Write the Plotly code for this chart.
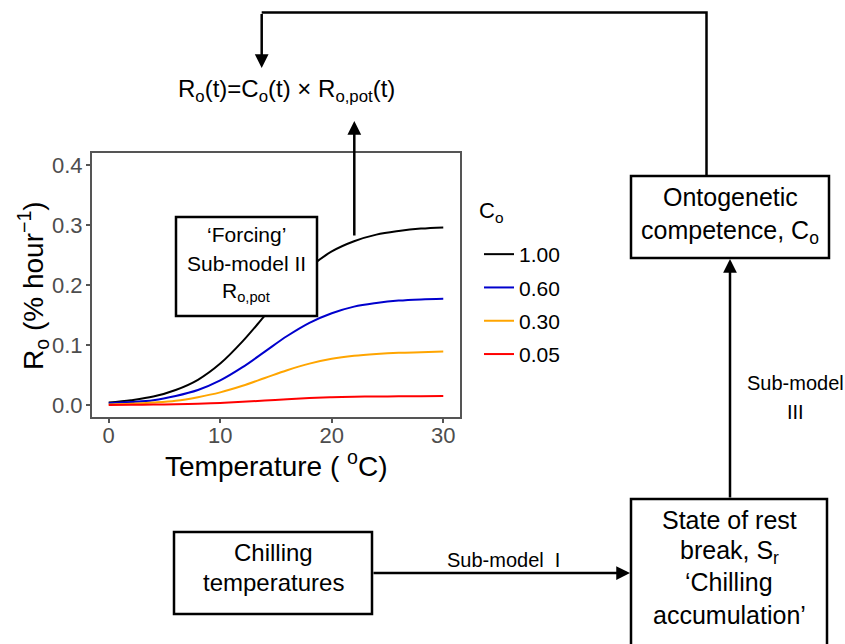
import plotly.graph_objects as go

W, H = 845, 644

# ---- data ----
temperature = [0, 2, 4, 6, 8, 10, 12, 14, 16, 18, 20, 22, 24, 26, 28, 30]
co_labels = ["1.00", "0.60", "0.30", "0.05"]
ro_100 = [0.004, 0.008, 0.014, 0.025, 0.042, 0.069, 0.106, 0.149, 0.192, 0.229, 0.256, 0.273, 0.284, 0.290, 0.294, 0.296]
ro_060 = [0.003, 0.005, 0.008, 0.015, 0.025, 0.041, 0.063, 0.089, 0.115, 0.137, 0.153, 0.164, 0.170, 0.174, 0.176, 0.177]
ro_030 = [0.001, 0.002, 0.004, 0.007, 0.013, 0.021, 0.032, 0.045, 0.058, 0.069, 0.077, 0.082, 0.085, 0.087, 0.088, 0.089]
ro_005 = [0.0002, 0.0004, 0.0007, 0.0012, 0.0021, 0.0035, 0.0053, 0.0075, 0.0096, 0.0115, 0.0128, 0.0137, 0.0142, 0.0145, 0.0147, 0.0148]
series = [ro_100, ro_060, ro_030, ro_005]
colors = ["#000000", "#0000CD", "#FFA500", "#FF0000"]
x_ticks = [0, 10, 20, 30]
y_ticks = [0.0, 0.1, 0.2, 0.3, 0.4]

FONT = "Liberation Sans, Arial, sans-serif"


def px(x):
    return x / W


def py(y):
    return 1 - y / H


fig = go.Figure()
for lab, vals, col in zip(co_labels, series, colors):
    fig.add_trace(go.Scatter(
        x=temperature, y=vals, mode="lines", name=lab, legendgroup=lab,
        line=dict(color=col, width=2, shape="spline", smoothing=1.0),
        hoverinfo="skip"))

axis_common = dict(showline=True, mirror=True, linecolor="#555555", linewidth=2,
                   showgrid=False, zeroline=False, ticks="outside", ticklen=4,
                   tickwidth=1.5, tickcolor="#555555",
                   tickfont=dict(size=22, color="#4d4d4d", family=FONT))

fig.update_layout(
    width=W, height=H, autosize=False,
    margin=dict(l=0, r=0, t=0, b=0),
    paper_bgcolor="white", plot_bgcolor="white",
    font=dict(family=FONT, color="black"),
    xaxis=dict(domain=[px(92), px(460)], range=[-1.5, 31.5], tickvals=x_ticks,
               ticklabelstandoff=-6, **axis_common),
    yaxis=dict(domain=[py(417), py(153)], range=[-0.02, 0.42], tickvals=y_ticks,
               tickformat=".1f", ticklabelstandoff=-1, **axis_common),
    legend=dict(x=px(479), y=py(234), xanchor="left", yanchor="top",
                font=dict(size=21, family=FONT, color="black"),
                traceorder="grouped", tracegroupgap=3, itemwidth=30,
                bgcolor="rgba(0,0,0,0)"),
    showlegend=True,
)

shapes = []
annotations = []
LW = 2.5


def rect(x0, y0, x1, y1, fill="rgba(0,0,0,0)"):
    shapes.append(dict(type="rect", xref="paper", yref="paper",
                       x0=px(x0), x1=px(x1), y0=py(y1), y1=py(y0),
                       line=dict(color="black", width=LW), fillcolor=fill, layer="above"))


def text(x, y, t, size, anchor="center"):
    annotations.append(dict(x=px(x), y=py(y), xref="paper", yref="paper", text=t,
                            showarrow=False, xanchor=anchor, yanchor="middle",
                            font=dict(size=size, color="black", family=FONT)))


def arrow(x_tail, y_tail, x_tip, y_tip):
    annotations.append(dict(x=px(x_tip), y=py(y_tip), xref="paper", yref="paper",
                            ax=x_tail - x_tip, ay=y_tail - y_tip, axref="pixel", ayref="pixel",
                            text="", showarrow=True, arrowhead=2, arrowsize=1.1,
                            arrowwidth=LW, arrowcolor="black"))


# boxes
rect(176, 217, 317, 316, fill="white")           # Forcing
rect(631, 176, 829, 258, fill="white")           # Ontogenetic
rect(174, 532, 372, 614, fill="white")           # Chilling temperatures
rect(631, 499, 827, 670, fill="white")           # State of rest break

# feedback line (top)
shapes.append(dict(type="path", xref="paper", yref="paper",
                   path=f"M {px(706.5)},{py(176)} L {px(706.5)},{py(12.5)} L {px(261.7)},{py(12.5)}",
                   line=dict(color="black", width=LW)))
arrow(261.7, 12.5, 261.7, 68)
arrow(354.3, 237, 354.3, 121)
arrow(372, 573, 630, 573)
arrow(730, 499, 730, 259)

# texts
text(286, 91, "R<sub>o</sub>(t)=C<sub>o</sub>(t) × R<sub>o,pot</sub>(t)", 24)
text(246.5, 235, "‘Forcing’", 21)
text(246.5, 263, "Sub-model II", 21)
text(246.5, 292, "R<sub>o,pot</sub>", 21)
text(730, 197, "Ontogenetic", 25)
text(730, 232, "competence, C<sub>o</sub>", 25)
text(273, 552, "Chilling", 24)
text(273, 582, "temperatures", 24)
text(503, 560, "Sub-model  I", 20)
text(795, 383, "Sub-model", 20)
text(795, 412, "III", 20)
text(729, 520, "State of rest", 25)
text(729, 552, "break, S<sub>r</sub>", 25)
text(729, 582, "‘Chilling", 25)
text(729, 615, "accumulation’", 25)

# axis titles and legend title
text(276, 464, "Temperature ( <sup>o</sup>C)", 28)
annotations.append(dict(x=px(33), y=py(286), xref="paper", yref="paper",
                        text="R<sub>o</sub> (% hour<sup>−1</sup>)", textangle=-90,
                        showarrow=False, xanchor="center", yanchor="middle",
                        font=dict(size=28, color="black", family=FONT)))
text(477, 212, "C<sub>o</sub>", 22, anchor="left")

fig.update_layout(shapes=shapes, annotations=annotations)
fig.write_html("out.html")
